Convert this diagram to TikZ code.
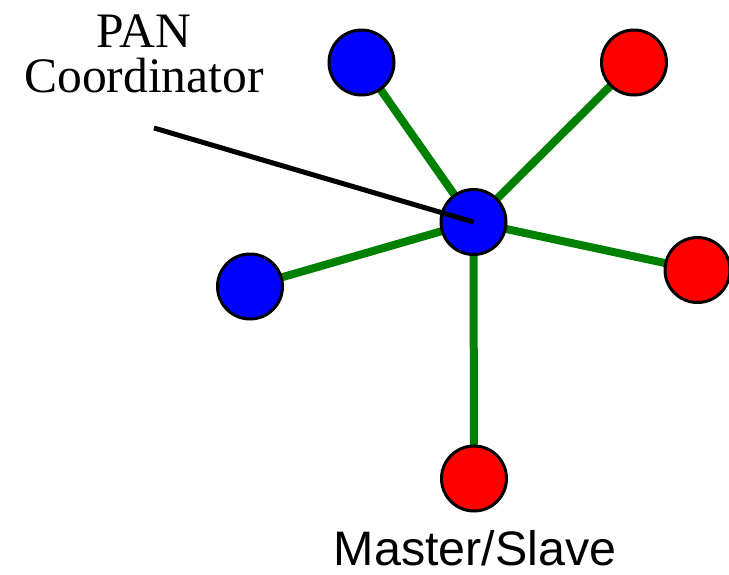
\documentclass[tikz,border=0pt]{standalone}
\usepackage{fontspec}
\setmainfont{Liberation Serif}
\setsansfont{Liberation Sans}
\usepackage{tikz}
\usetikzlibrary{backgrounds}
\definecolor{devblue}{HTML}{0000FF}
\definecolor{devred}{HTML}{FF0000}
\definecolor{linkgreen}{HTML}{008000}
\tikzset{
  devnode/.style={
    circle, draw=black, fill=#1, line width=1.5pt,
    minimum size=32.5pt, inner sep=0pt
  },
  devnode/.default=devblue,
  linkline/.style={
    line width=4pt, color=linkgreen
  },
  pointer/.style={
    line width=2.5pt, color=black
  },
  labelnode/.style={
    inner sep=0pt, align=center
  },
}

\begin{document}
\begin{tikzpicture}[x=0.5pt, y=-0.5pt]
  \useasboundingbox (0,0) rectangle (729,574);

  % star: coordinator in the middle
  \node[devnode=devblue] (pan) at (473.5,222) {};
  \node[devnode=devblue] (tl) at (361.5,62.5) {};
  \node[devnode=devred] (tr) at (634,62.5) {};
  \node[devnode=devred] (rt) at (697.5,270) {};
  \node[devnode=devblue] (lt) at (250,286.5) {};
  \node[devnode=devred] (bt) at (474,478.5) {};

  \begin{scope}[on background layer]
    \foreach \n in {tl,tr,rt,lt,bt}
      \draw[linkline] (pan.center) -- (\n.center);
  \end{scope}

  % labels
  \node[labelnode, anchor=north, font=\fontsize{24.8}{22.5}\selectfont]
    (panlabel) at (144,14) {PAN\\Coordinator};
  \coordinate (ptr) at (154,128);
  \draw[pointer] (ptr) -- (pan.center);

  \node[labelnode, anchor=base, font=\sffamily\fontsize{24.2}{27}\selectfont]
    (mslabel) at (475,565) {Master/Slave};
\end{tikzpicture}
\end{document}
